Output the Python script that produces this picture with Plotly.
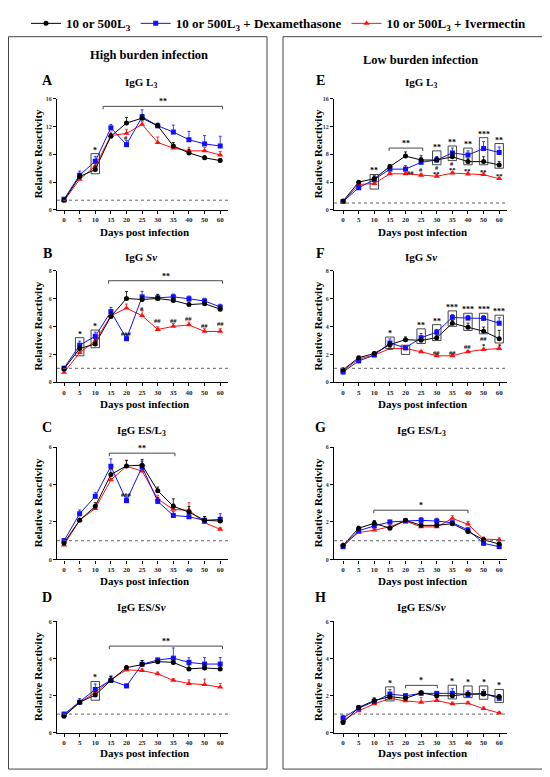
import plotly.graph_objects as go

# the page body adds a small offset, so the figure is a bit smaller than the window
W, H = 542, 769
DX, DY = 8, 8
SERIF = "Liberation Serif, Times New Roman, serif"

DAYS = [0, 5, 10, 15, 20, 25, 30, 35, 40, 50, 60]
NAMES = ["10 or 500L<sub>3</sub>",
         "10 or 500L<sub>3</sub> + Dexamethasone",
         "10 or 500L<sub>3</sub> + Ivermectin"]
COLORS = ["#000000", "#1010ff", "#ff1010"]
SYMBOLS = ["circle", "square", "triangle-up"]

# ---- High burden infection ----
# A: IgG L3
A_CTRL = [1.4, 4.8, 5.8, 10.6, 12.5, 13.2, 12.1, 9.2, 8.2, 7.5, 7.1]
A_DEX = [1.55, 5.0, 7.0, 11.8, 9.4, 13.4, 12.1, 11.2, 10.1, 9.5, 9.2]
A_IVM = [1.3, 4.4, 6.3, 10.7, 11.0, 12.3, 9.7, 8.9, 8.5, 8.5, 7.9]
A_CTRL_ERR = [0.2, 0.4, 0.5, 0.4, 0.8, 0.5, 0.3, 0.5, 0.5, 0.3, 0.3]
A_DEX_ERR = [0.2, 0.6, 0.7, 0.5, 0.6, 1.0, 0.4, 1.0, 1.2, 1.2, 1.4]
A_IVM_ERR = [0.2, 0.3, 0.5, 0.5, 0.6, 0.4, 0.8, 0.4, 0.5, 0.5, 0.5]

# B: IgG Sv
B_CTRL = [0.96, 2.42, 2.75, 4.73, 6.02, 5.95, 6.02, 5.88, 5.58, 5.65, 5.25]
B_DEX = [1.01, 2.66, 3.3, 5.08, 3.13, 6.14, 6.07, 6.14, 6.0, 5.84, 5.41]
B_IVM = [0.7, 2.12, 2.96, 4.78, 5.32, 4.78, 3.79, 4.02, 4.12, 3.65, 3.65]
B_CTRL_ERR = [0.1, 0.2, 0.3, 0.3, 0.5, 0.2, 0.3, 0.2, 0.2, 0.2, 0.2]
B_DEX_ERR = [0.1, 0.3, 0.3, 0.3, 0.3, 0.4, 0.2, 0.2, 0.2, 0.2, 0.2]
B_IVM_ERR = [0.1, 0.2, 0.2, 0.2, 0.3, 0.4, 0.2, 0.2, 0.2, 0.2, 0.2]

# C: IgG ES/L3
C_CTRL = [0.88, 2.09, 2.84, 4.54, 5.0, 5.04, 3.67, 2.84, 2.53, 2.09, 2.05]
C_DEX = [1.0, 2.44, 3.37, 4.98, 3.14, 4.95, 3.1, 2.35, 2.28, 2.09, 2.14]
C_IVM = [0.77, 2.1, 2.72, 4.25, 4.98, 4.72, 3.23, 2.67, 2.63, 1.96, 1.61]
C_CTRL_ERR = [0.1, 0.1, 0.2, 0.3, 0.3, 0.3, 0.2, 0.4, 0.3, 0.2, 0.2]
C_DEX_ERR = [0.1, 0.2, 0.2, 0.4, 0.2, 0.3, 0.2, 0.2, 0.2, 0.2, 0.3]
C_IVM_ERR = [0.1, 0.1, 0.2, 0.2, 0.3, 0.3, 0.2, 0.3, 0.4, 0.2, 0.1]

# D: IgG ES/Sv
D_CTRL = [0.88, 1.64, 2.03, 2.82, 3.51, 3.69, 3.83, 3.79, 3.44, 3.49, 3.44]
D_DEX = [1.0, 1.64, 2.33, 2.82, 2.52, 3.69, 3.92, 4.02, 3.79, 3.7, 3.7]
D_IVM = [0.93, 1.62, 2.17, 2.87, 3.39, 3.35, 3.17, 2.82, 2.65, 2.59, 2.45]
D_CTRL_ERR = [0.1, 0.1, 0.2, 0.2, 0.1, 0.2, 0.1, 0.1, 0.2, 0.2, 0.2]
D_DEX_ERR = [0.1, 0.2, 0.3, 0.2, 0.1, 0.2, 0.1, 0.55, 0.25, 0.35, 0.35]
D_IVM_ERR = [0.1, 0.1, 0.2, 0.2, 0.1, 0.1, 0.1, 0.1, 0.2, 0.3, 0.2]

# ---- Low burden infection ----
# E: IgG L3
E_CTRL = [1.27, 4.0, 4.5, 6.24, 7.75, 7.18, 7.18, 7.65, 6.95, 6.95, 6.48]
E_DEX = [1.22, 3.19, 4.37, 5.87, 5.87, 6.85, 7.18, 8.2, 7.9, 8.83, 8.26]
E_IVM = [1.17, 3.66, 3.8, 5.2, 5.2, 4.98, 4.84, 5.3, 5.16, 5.07, 4.5]
E_CTRL_ERR = [0.1, 0.2, 0.4, 0.3, 0.6, 0.4, 0.4, 0.6, 0.5, 0.7, 0.5]
E_DEX_ERR = [0.1, 0.3, 0.5, 0.4, 0.5, 1.0, 0.5, 0.7, 0.6, 1.0, 0.8]
E_IVM_ERR = [0.1, 0.2, 0.3, 0.2, 0.2, 0.3, 0.2, 0.2, 0.3, 0.3, 0.2]

# F: IgG Sv
F_CTRL = [0.89, 1.76, 2.07, 2.7, 3.06, 3.01, 3.2, 4.24, 3.95, 3.67, 3.13]
F_DEX = [0.73, 1.53, 1.95, 2.82, 2.47, 3.2, 3.6, 4.66, 4.61, 4.59, 4.24]
F_IVM = [0.82, 1.67, 1.95, 2.42, 2.42, 2.19, 1.9, 1.9, 2.19, 2.35, 2.42]
F_CTRL_ERR = [0.1, 0.1, 0.1, 0.2, 0.2, 0.2, 0.2, 0.2, 0.3, 0.3, 0.6]
F_DEX_ERR = [0.1, 0.1, 0.1, 0.3, 0.1, 0.3, 0.2, 0.2, 0.2, 0.2, 0.4]
F_IVM_ERR = [0.1, 0.1, 0.1, 0.1, 0.1, 0.1, 0.1, 0.1, 0.1, 0.1, 0.1]

# G: IgG ES/L3
G_CTRL = [0.74, 1.67, 1.93, 1.67, 2.09, 1.82, 1.82, 1.91, 1.49, 1.05, 0.82]
G_DEX = [0.68, 1.53, 1.79, 2.0, 2.05, 2.09, 2.05, 1.96, 1.58, 0.86, 0.68]
G_IVM = [0.79, 1.44, 1.56, 1.75, 2.05, 1.74, 1.74, 2.19, 1.88, 1.09, 1.05]
G_CTRL_ERR = [0.05, 0.1, 0.15, 0.1, 0.1, 0.1, 0.1, 0.1, 0.1, 0.1, 0.1]
G_DEX_ERR = [0.05, 0.1, 0.1, 0.1, 0.1, 0.15, 0.15, 0.1, 0.1, 0.05, 0.05]
G_IVM_ERR = [0.05, 0.1, 0.1, 0.1, 0.1, 0.1, 0.1, 0.15, 0.15, 0.1, 0.1]

# H: IgG ES/Sv
H_CTRL = [0.55, 1.36, 1.73, 1.94, 1.85, 2.15, 1.99, 1.99, 2.08, 2.08, 1.94]
H_DEX = [0.79, 1.32, 1.68, 2.08, 1.99, 2.12, 2.12, 2.12, 2.06, 2.12, 1.85]
H_IVM = [0.65, 1.18, 1.55, 1.85, 1.71, 1.64, 1.73, 1.55, 1.59, 1.29, 1.06]
H_CTRL_ERR = [0.05, 0.1, 0.15, 0.1, 0.1, 0.1, 0.1, 0.1, 0.1, 0.1, 0.1]
H_DEX_ERR = [0.15, 0.1, 0.1, 0.25, 0.1, 0.1, 0.1, 0.25, 0.2, 0.2, 0.2]
H_IVM_ERR = [0.05, 0.1, 0.1, 0.1, 0.1, 0.25, 0.1, 0.1, 0.1, 0.1, 0.05]

# significance: brackets (from idx, to idx, y, label), boxes (idx, y0, y1, label), marks (idx, y, text)
PANELS = [
    dict(letter="A", col=0, row=0, title="IgG L<sub>3</sub>", ymax=16, dtick=4, cutoff=1.4,
         vals=(A_CTRL, A_DEX, A_IVM), errs=(A_CTRL_ERR, A_DEX_ERR, A_IVM_ERR),
         brackets=[(2.5, 10.15, 14.9, "**")],
         boxes=[(2, 5.2, 8.1, "*")],
         marks=[(4, 10.35, "#")]),
    dict(letter="B", col=0, row=1, title="IgG <i>Sv</i>", ymax=8, dtick=2, cutoff=1.0,
         vals=(B_CTRL, B_DEX, B_IVM), errs=(B_CTRL_ERR, B_DEX_ERR, B_IVM_ERR),
         brackets=[(2.85, 10.15, 7.3, "**")],
         boxes=[(1, 1.9, 3.2, "*"), (2, 2.48, 3.75, "*")],
         marks=[(4, 3.5, "###"), (5, 5.3, "#"), (6, 4.47, "##"), (7, 4.47, "##"),
                (8, 4.6, "##"), (9, 4.1, "##"), (10, 4.2, "##")]),
    dict(letter="C", col=0, row=2, title="IgG ES/L<sub>3</sub>", ymax=6, dtick=2, cutoff=1.0,
         vals=(C_CTRL, C_DEX, C_IVM), errs=(C_CTRL_ERR, C_DEX_ERR, C_IVM_ERR),
         brackets=[(2.9, 7.1, 5.68, "**")],
         boxes=[],
         marks=[(4, 3.47, "###")]),
    dict(letter="D", col=0, row=3, title="IgG ES/<i>Sv</i>", ymax=6, dtick=2, cutoff=1.0,
         vals=(D_CTRL, D_DEX, D_IVM), errs=(D_CTRL_ERR, D_DEX_ERR, D_IVM_ERR),
         brackets=[(2.9, 10.15, 4.67, "**")],
         boxes=[(2, 1.75, 2.76, "*")],
         marks=[]),
    dict(letter="E", col=1, row=0, title="IgG L<sub>3</sub>", ymax=16, dtick=4, cutoff=1.0,
         vals=(E_CTRL, E_DEX, E_IVM), errs=(E_CTRL_ERR, E_DEX_ERR, E_IVM_ERR),
         brackets=[(2.95, 5.1, 8.9, "**")],
         boxes=[(2, 3.0, 5.1, "**"), (6, 6.5, 8.5, "**"), (7, 7.1, 9.2, "**"),
                (8, 6.5, 8.9, "**"), (9, 6.5, 10.4, "***"), (10, 6.0, 9.55, "**")],
         marks=[(4.3, 5.35, "##"), (5, 5.8, "#"), (6, 6.15, "#"), (7, 6.7, "#"),
                (6, 5.3, "**"), (7, 5.75, "**"), (8, 5.7, "**"), (9, 5.6, "**"), (10, 5.0, "**")]),
    dict(letter="F", col=1, row=1, title="IgG <i>Sv</i>", ymax=8, dtick=2, cutoff=1.0,
         vals=(F_CTRL, F_DEX, F_IVM), errs=(F_CTRL_ERR, F_DEX_ERR, F_IVM_ERR),
         brackets=[],
         boxes=[(3, 2.42, 3.25, "*"), (4, 2.0, 2.66, "*"), (5, 2.78, 3.84, "**"),
                (6, 3.0, 4.14, "**"), (7, 4.02, 5.13, "***"), (8, 3.72, 4.96, "***"),
                (9, 3.48, 4.96, "***"), (10, 2.82, 4.82, "***")],
         marks=[(6, 2.15, "##"), (7, 2.15, "##"), (8, 2.55, "##"), (9, 3.12, "##"),
                (9, 2.64, "*"), (10, 2.64, "*"), (10.58, 4.17, "#")]),
    dict(letter="G", col=1, row=2, title="IgG ES/L<sub>3</sub>", ymax=6, dtick=2, cutoff=1.0,
         vals=(G_CTRL, G_DEX, G_IVM), errs=(G_CTRL_ERR, G_DEX_ERR, G_IVM_ERR),
         brackets=[(1.97, 8.0, 2.63, "*")],
         boxes=[],
         marks=[]),
    dict(letter="H", col=1, row=3, title="IgG ES/<i>Sv</i>", ymax=6, dtick=2, cutoff=1.0,
         vals=(H_CTRL, H_DEX, H_IVM), errs=(H_CTRL_ERR, H_DEX_ERR, H_IVM_ERR),
         brackets=[(4.0, 6.04, 2.55, "*")],
         boxes=[(3, 1.71, 2.47, "*"), (7, 1.82, 2.56, "*"), (8, 1.89, 2.52, "*"),
                (9, 1.8, 2.52, "*"), (10, 1.62, 2.33, "*")],
         marks=[]),
]

# pixel layout of the plotting areas (screen pixels)
COLS = [(57, 228), (334, 507)]
XSTART = [-0.45, -0.58]
ROWS = [(91, 204), (266, 379), (445, 559), (622, 735)]
TITLE_Y = [75, 252, 429, 607]
LETTER_Y = [73, 248, 425, 598]
XTITLE_Y = [226, 401, 581, 756]
TITLE_X = [141, 421]
LETTER_X = [47, 320]
YTITLE_X = [38, 318]


def px(x):
    return (x - DX) / W


def py(y):
    return 1 - (y - DY) / H


fig = go.Figure()
shapes = []
annotations = []
layout_axes = {}
idx = list(range(len(DAYS)))


def paper_text(x, y, text, size, **kw):
    annotations.append(dict(x=px(x), y=py(y), xref="paper", yref="paper", text=text,
                            showarrow=False, xanchor="center", yanchor="middle",
                            font=dict(family=SERIF, size=size, weight="bold", color="black"),
                            **kw))


for n, p in enumerate(PANELS, start=1):
    xa = "x" if n == 1 else f"x{n}"
    ya = "y" if n == 1 else f"y{n}"
    left, right = COLS[p["col"]]
    top, bottom = ROWS[p["row"]]
    x0 = XSTART[p["col"]]

    # red, blue, then black on top
    for k in (2, 1, 0):
        fig.add_trace(go.Scatter(
            x=idx, y=p["vals"][k], mode="lines+markers", name=NAMES[k],
            legendrank=k, showlegend=(n == 1), cliponaxis=False,
            line=dict(color=COLORS[k], width=1),
            marker=dict(symbol=SYMBOLS[k], size=5 if k < 2 else 5.5, color=COLORS[k]),
            error_y=dict(type="data", symmetric=False, array=p["errs"][k],
                         arrayminus=[0] * len(DAYS), color=COLORS[k],
                         thickness=0.8, width=1.5),
            xaxis=xa, yaxis=ya,
        ))

    suffix = "" if n == 1 else str(n)
    layout_axes[f"xaxis{suffix}"] = dict(
        domain=[px(left), px(right)], anchor=ya, range=[x0, 10.5],
        tickmode="array", tickvals=idx, ticktext=[str(d) for d in DAYS],
        showline=True, linecolor="black", linewidth=1.2, ticks="outside",
        ticklen=3, tickwidth=1, tickcolor="black",
        tickfont=dict(family=SERIF, size=7, weight="bold", color="#222"),
        showgrid=False, zeroline=False, fixedrange=True)
    layout_axes[f"yaxis{suffix}"] = dict(
        domain=[py(bottom), py(top)], anchor=xa, range=[0, p["ymax"]],
        tick0=0, dtick=p["dtick"], showline=True, linecolor="black", linewidth=1.2,
        ticks="outside", ticklen=3, tickwidth=1, tickcolor="black",
        tickfont=dict(family=SERIF, size=6, weight="bold", color="#333"),
        showgrid=False, zeroline=False, fixedrange=True)

    # cutoff line
    shapes.append(dict(type="line", xref=xa, yref=ya, x0=x0, x1=10.5,
                       y0=p["cutoff"], y1=p["cutoff"],
                       line=dict(color="#666", width=1, dash="dot")))

    d = p["ymax"] * 3 / 113
    star_font = dict(family=SERIF, size=8, weight="bold", color="black")
    for b0, b1, by, lab in p["brackets"]:
        shapes.append(dict(type="path", xref=xa, yref=ya,
                           path=f"M {b0},{by - d} L {b0},{by} L {b1},{by} L {b1},{by - d}",
                           line=dict(color="#333", width=0.9)))
        annotations.append(dict(x=(b0 + b1) / 2, y=by, xref=xa, yref=ya, text=lab,
                                showarrow=False, xanchor="center", yanchor="bottom",
                                yshift=-2, font=star_font))
    for bi, y0, y1, lab in p["boxes"]:
        shapes.append(dict(type="rect", xref=xa, yref=ya, x0=bi - 0.27, x1=bi + 0.27,
                           y0=y0, y1=y1, line=dict(color="#333", width=0.9)))
        annotations.append(dict(x=bi, y=y1, xref=xa, yref=ya, text=lab,
                                showarrow=False, xanchor="center", yanchor="bottom",
                                yshift=-3, font=star_font))
    for mi, my, lab in p["marks"]:
        annotations.append(dict(x=mi, y=my, xref=xa, yref=ya, text=lab,
                                showarrow=False, xanchor="center", yanchor="middle",
                                font=dict(family=SERIF, size=6.5, weight="bold", color="black")))

    # panel texts
    c, r = p["col"], p["row"]
    paper_text(LETTER_X[c], LETTER_Y[r], p["letter"], 14)
    paper_text(TITLE_X[c], TITLE_Y[r], p["title"], 11)
    paper_text(YTITLE_X[c], (top + bottom) / 2, "Relative Reactivity", 11, textangle=-90)
    paper_text((left + right) / 2 + 2, XTITLE_Y[r], "Days post infection", 11)

# outer frames and their headers
for (bx0, bx1), head, hx, hy in [((8.5, 267), "High burden infection", 149, 47),
                                 ((283, 543), "Low burden infection", 420, 52)]:
    shapes.append(dict(type="rect", xref="paper", yref="paper",
                       x0=px(bx0), x1=px(bx1), y0=py(772), y1=py(28),
                       line=dict(color="#444", width=1)))
    paper_text(hx, hy, head, 12.5)

fig.update_layout(
    width=W, height=H, autosize=False,
    margin=dict(l=0, r=0, t=0, b=0),
    paper_bgcolor="white", plot_bgcolor="white",
    showlegend=True,
    legend=dict(orientation="h", x=0.5, xanchor="center", y=py(14.5), yanchor="middle",
                font=dict(family=SERIF, size=13, weight="bold", color="black"),
                itemwidth=30, bgcolor="rgba(0,0,0,0)"),
    shapes=shapes, annotations=annotations,
    **layout_axes,
)

fig.write_html("out.html")
